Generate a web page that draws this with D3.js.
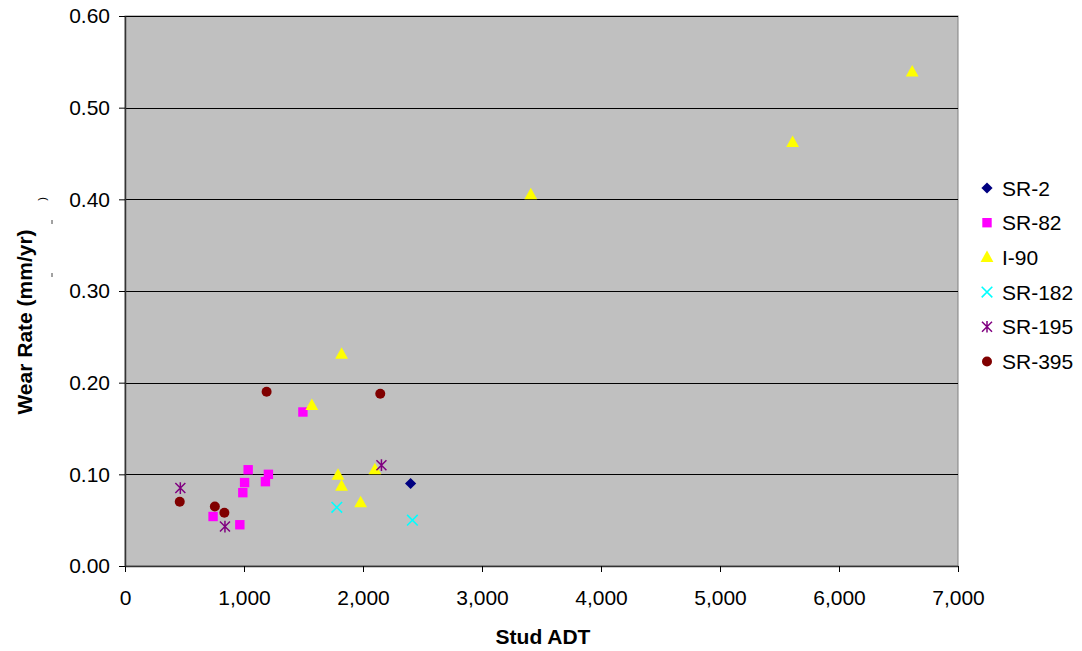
<!DOCTYPE html>
<html><head><meta charset="utf-8">
<script src="https://cdn.jsdelivr.net/npm/d3@7"></script>
<style>
body{margin:0;background:#fff;}
svg text{font-family:"Liberation Sans",Arial,sans-serif;fill:#000;}
</style></head>
<body><svg id="c" width="1082" height="651"></svg>
<script>
// ---- data ----
const seriesNames = ["SR-2","SR-82","I-90","SR-182","SR-195","SR-395"];
const sr2X = [2400];
const sr2Y = [0.090];
const sr82X = [740, 965, 990, 1005, 1035, 1180, 1205, 1495];
const sr82Y = [0.054, 0.045, 0.080, 0.091, 0.105, 0.092, 0.100, 0.168];
const i90X = [1570, 1790, 1820, 1820, 1980, 2100, 3410, 5610, 6615];
const i90Y = [0.175, 0.099, 0.087, 0.231, 0.069, 0.105, 0.405, 0.462, 0.539];
const sr182X = [1780, 2415];
const sr182Y = [0.064, 0.050];
const sr195X = [465, 840, 2155];
const sr195Y = [0.085, 0.043, 0.110];
const sr395X = [460, 755, 835, 1190, 2145];
const sr395Y = [0.070, 0.065, 0.058, 0.190, 0.188];
const xTicks = [0,1000,2000,3000,4000,5000,6000,7000];
const yTicks = [0,0.1,0.2,0.3,0.4,0.5,0.6];
const xTitle = "Stud ADT";
const yTitle = "Wear Rate (mm/yr)";

const series = [
  {name:seriesNames[0], x:sr2X, y:sr2Y, shape:"diamond", color:"#000080"},
  {name:seriesNames[1], x:sr82X, y:sr82Y, shape:"square", color:"#ff00ff"},
  {name:seriesNames[2], x:i90X, y:i90Y, shape:"triangle", color:"#ffff00"},
  {name:seriesNames[3], x:sr182X, y:sr182Y, shape:"x", color:"#00ffff"},
  {name:seriesNames[4], x:sr195X, y:sr195Y, shape:"star", color:"#800080"},
  {name:seriesNames[5], x:sr395X, y:sr395Y, shape:"circle", color:"#800000"}
];

const L=125, R=958, T=16, B=566;
const svg = d3.select("#c");
const x = d3.scaleLinear().domain([0,7000]).range([L,R]);
const y = d3.scaleLinear().domain([0,0.6]).range([B,T]);

// plot area
svg.append("rect").attr("x",L).attr("y",T).attr("width",R-L).attr("height",B-T)
  .attr("fill","#c0c0c0").attr("stroke","#808080").attr("stroke-width",1);

// gridlines
svg.append("g").selectAll("line").data(yTicks.filter(d=>d>0)).join("line")
  .attr("x1",L).attr("x2",R).attr("y1",d=>Math.round(y(d))+0.5).attr("y2",d=>Math.round(y(d))+0.5)
  .attr("stroke","#000").attr("stroke-width",1);

// axes
const fmtX = d3.format(",");
const xAxis = svg.append("g").attr("transform",`translate(0,${B})`)
  .call(d3.axisBottom(x).tickValues(xTicks).tickFormat(fmtX).tickSize(6).tickSizeOuter(0));
xAxis.selectAll("text").attr("y",0).attr("dy",null).attr("dominant-baseline",null)
  .attr("transform","translate(0,39)").style("font-size","21px")
  .style("font-family","'Liberation Sans',Arial,sans-serif");
const yAxis = svg.append("g").attr("transform",`translate(${L},0)`)
  .call(d3.axisLeft(y).tickValues(yTicks).tickFormat(d3.format(".2f")).tickSize(6).tickSizeOuter(0));
yAxis.selectAll("text").attr("x",-15).attr("dy","0.33em").style("font-size","21px")
  .style("font-family","'Liberation Sans',Arial,sans-serif");
[xAxis,yAxis].forEach(a=>{
  a.select(".domain").attr("stroke","#333").attr("stroke-width",1.5);
  a.selectAll(".tick line").attr("stroke","#000");
});

// markers
function drawShape(g, shape, color){
  if(shape==="diamond"){
    g.append("path").attr("d","M0,-5.6L5.6,0L0,5.6L-5.6,0Z").attr("fill",color);
  } else if(shape==="square"){
    g.append("rect").attr("x",-4.7).attr("y",-4.7).attr("width",9.4).attr("height",9.4).attr("fill",color);
  } else if(shape==="triangle"){
    g.append("path").attr("d","M0,-7L6.4,4.5L-6.4,4.5Z").attr("fill",color);
  } else if(shape==="x"){
    g.append("path").attr("d","M-5.3,-5.3L5.3,5.3M-5.3,5.3L5.3,-5.3").attr("stroke",color).attr("stroke-width",1.6).attr("fill","none");
  } else if(shape==="star"){
    g.append("path").attr("d","M-5,-5L5,5M-5,5L5,-5M0,-5.8L0,5.8").attr("stroke",color).attr("stroke-width",1.5).attr("fill","none");
  } else if(shape==="circle"){
    g.append("circle").attr("r",5).attr("fill",color);
  }
}
series.forEach(s=>{
  const pts = s.x.map((v,i)=>({x:v,y:s.y[i]}));
  const gs = svg.append("g").selectAll("g").data(pts).join("g")
    .attr("transform",d=>`translate(${x(d.x)},${y(d.y)})`);
  gs.each(function(){ drawShape(d3.select(this), s.shape, s.color); });
});

// legend
const lg = svg.append("g");
series.forEach((s,i)=>{
  const cy = 188 + i*34.7;
  const g = lg.append("g").attr("transform",`translate(987,${cy})`);
  drawShape(g, s.shape, s.color);
  lg.append("text").attr("x",1002).attr("y",cy+7.5).style("font-size","21px").text(s.name);
});

// titles
svg.append("text").attr("x",543).attr("y",644).attr("text-anchor","middle")
  .style("font-size","21px").style("font-weight","bold").text(xTitle);
svg.append("text").attr("transform","translate(32,322) rotate(-90)").attr("text-anchor","middle")
  .style("font-size","21px").style("font-weight","bold").text(yTitle);

// small leftover marks near the y title
svg.append("text").attr("transform","translate(46,199) rotate(-90)").attr("text-anchor","middle")
  .style("font-size","11px").text(")");
svg.append("line").attr("x1",52).attr("x2",52).attr("y1",220).attr("y2",224).attr("stroke","#444");
svg.append("line").attr("x1",52).attr("x2",52).attr("y1",273).attr("y2",277).attr("stroke","#444");
</script></body></html>
